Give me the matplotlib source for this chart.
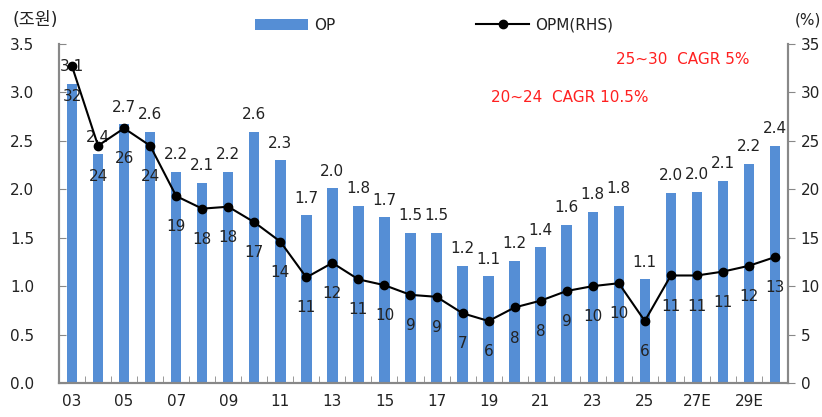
import numpy as np
import matplotlib.pyplot as plt

plt.rcParams['font.family'] = ['DejaVu Sans', 'Noto Sans CJK KR']

# data
years = ['03', '04', '05', '06', '07', '08', '09', '10', '11', '12', '13', '14', '15', '16',
         '17', '18', '19', '20', '21', '22', '23', '24', '25', '26', '27E', '28E', '29E', '30E']
op = [3.09, 2.36, 2.67, 2.59, 2.18, 2.07, 2.18, 2.59, 2.30, 1.73, 2.01, 1.83, 1.71, 1.55,
      1.55, 1.21, 1.10, 1.26, 1.40, 1.63, 1.77, 1.83, 1.07, 1.96, 1.97, 2.09, 2.26, 2.45]
op_labels = ['3.1', '2.4', '2.7', '2.6', '2.2', '2.1', '2.2', '2.6', '2.3', '1.7', '2.0', '1.8', '1.7', '1.5',
             '1.5', '1.2', '1.1', '1.2', '1.4', '1.6', '1.8', '1.8', '1.1', '2.0', '2.0', '2.1', '2.2', '2.4']
opm = [32.7, 24.5, 26.3, 24.5, 19.3, 18.0, 18.2, 16.6, 14.6, 10.9, 12.4, 10.7, 10.1, 9.1,
       8.9, 7.2, 6.4, 7.8, 8.5, 9.5, 10.0, 10.3, 6.4, 11.1, 11.1, 11.5, 12.1, 13.0]
opm_labels = ['32', '24', '26', '24', '19', '18', '18', '17', '14', '11', '12', '11', '10', '9',
              '9', '7', '6', '8', '8', '9', '10', '10', '6', '11', '11', '11', '12', '13']

BAR_COLOR = '#558ED5'
TXT = '#222222'
SPINE = '#888888'
FS = 11

fig = plt.figure(figsize=(8.22, 4.17), dpi=100)
ax = fig.add_axes([59/822, 34/417, 729/822, 339/417])
ax2 = ax.twinx()

x = np.arange(len(years))
bars = ax.bar(x, op, width=0.4, color=BAR_COLOR, label='OP', zorder=2)
line, = ax2.plot(x, opm, color='black', lw=1.5, marker='o', ms=6, label='OPM(RHS)', zorder=3)

ax.set_xlim(-0.5, len(years) - 0.5)
ax.set_ylim(0, 3.5)
ax2.set_ylim(0, 35)
ax.set_yticks(np.arange(0, 3.51, 0.5))
ax.set_yticklabels([f'{v:.1f}' for v in np.arange(0, 3.51, 0.5)])
ax2.set_yticks(np.arange(0, 36, 5))

# labels every other year, boundary ticks
ax.set_xticks(x[::2])
ax.set_xticklabels(years[::2])
ax.set_xticks(np.arange(0.5, len(years) - 0.5, 1), minor=True)
ax.tick_params(axis='x', which='major', length=0, pad=8, labelsize=FS, labelcolor=TXT)
ax.tick_params(axis='x', which='minor', direction='in', length=5, color=SPINE)
ax.tick_params(axis='y', direction='in', length=5, color=SPINE, labelsize=FS, labelcolor=TXT, pad=18)
ax2.tick_params(axis='y', direction='out', length=5, color=SPINE, labelsize=FS, labelcolor=TXT, pad=4)

for a in (ax, ax2):
    a.spines['top'].set_visible(False)
    for s in ('left', 'right', 'bottom'):
        a.spines[s].set_color(SPINE)
        a.spines[s].set_linewidth(1.5)

# data labels
for xi, v, lab in zip(x, op, op_labels):
    ax.annotate(lab, (xi, v), xytext=(0, 7), textcoords='offset points',
                ha='center', va='bottom', fontsize=FS, color=TXT)
for xi, v, lab in zip(x, opm, opm_labels):
    ax2.annotate(lab, (xi, v), xytext=(0, -22), textcoords='offset points',
                 ha='center', va='center', fontsize=FS, color=TXT)

# units and notes
fig.text(12/822, 1 - 20/417, '(조원)', fontsize=12.5, color=TXT, va='center', ha='left')
fig.text(795/822, 1 - 20/417, '(%)', fontsize=FS, color=TXT, va='center', ha='left')
fig.text(683/822, 1 - 60/417, '25~30  CAGR 5%', fontsize=FS, color='#FF2020', va='center', ha='center')
fig.text(570/822, 1 - 97/417, '20~24  CAGR 10.5%', fontsize=FS, color='#FF2020', va='center', ha='center')

fig.legend(handles=[bars, line], labels=['OP', 'OPM(RHS)'], loc='center',
           bbox_to_anchor=(434/822, 1 - 25/417), ncol=2, frameon=False, fontsize=FS,
           handlelength=3.5, handletextpad=0.4, columnspacing=9.2, labelcolor=TXT)

fig.savefig('out.png', dpi=100)
